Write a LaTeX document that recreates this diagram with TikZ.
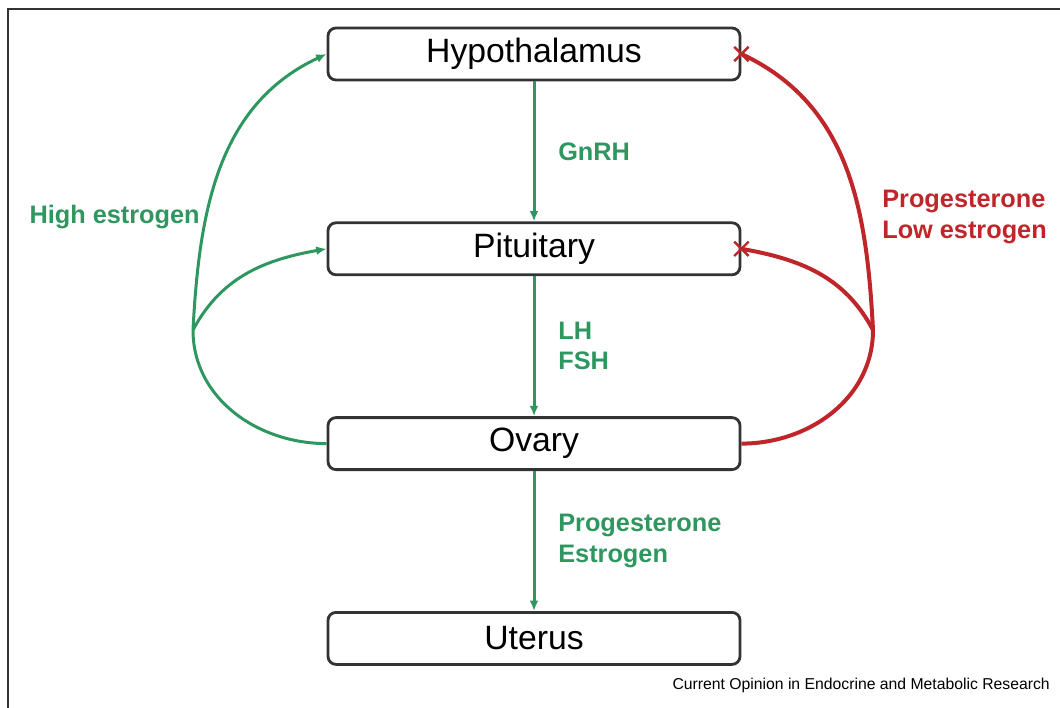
\documentclass[tikz,border=0pt]{standalone}
\usepackage{fontspec}
\setmainfont{Liberation Sans}
\usetikzlibrary{arrows.meta,positioning,shapes.misc}
\definecolor{hormgreen}{RGB}{46,150,95}
\definecolor{inhibred}{RGB}{190,38,42}

\begin{document}
\begin{tikzpicture}[>={Latex[length=2.6mm,width=2.2mm]}, node distance=35mm,
  organ/.style={draw=black!80, line width=0.7mm, rounded corners=2mm, minimum width=103mm, minimum height=13mm, font=\fontsize{24}{28}\selectfont},
  stim/.style={->, draw=hormgreen, line width=0.75mm},
  inhib/.style={draw=inhibred, line width=1mm},
  hlabel/.style={font=\fontsize{18}{21.5}\selectfont\bfseries, text=hormgreen, align=left, inner sep=0pt},
  xmark/.style={cross out, draw=inhibred, line width=0.6mm, minimum size=3mm, inner sep=0pt}]
  \useasboundingbox (0,0) rectangle (265mm,-177mm);
  % frame
  \draw[line width=0.5mm, black!80] (2mm,-177mm) |- (265mm,-2.25mm);

  \node[organ] (hypo) at (133.5mm,-13.5mm) {Hypothalamus};
  \node[organ, below=of hypo] (pit) {Pituitary};
  \node[organ, below=of pit] (ovary) {Ovary};
  \node[organ, below=of ovary] (uterus) {Uterus};

  % axis
  \draw[stim] (hypo) -- node[hlabel, right=5.7mm] (gnrh) {GnRH} (pit);
  \draw[stim] (pit) -- node[hlabel, right=5.7mm] (lhfsh) {LH\\FSH} (ovary);
  \draw[stim] (ovary) -- node[hlabel, right=5.7mm] (steroids) {Progesterone\\Estrogen} (uterus);

  % positive feedback
  \coordinate (hubL) at (48.25mm,-82.5mm);
  \draw[stim, -] (ovary.west) to[out=180,in=-90] (hubL);
  \draw[stim] (hubL) to[out=87,in=205] (hypo.west);
  \draw[stim] (hubL) to[out=62,in=190] (pit.west);
  \node[hlabel, anchor=east] (high) at (50mm,-54.25mm) {High estrogen};

  % negative feedback
  \coordinate (hubR) at (218.25mm,-82.5mm);
  \draw[inhib] (ovary.east) to[out=0,in=-90] (hubR);
  \draw[inhib] (hubR) to[out=93,in=-25] (hypo.east);
  \draw[inhib] (hubR) to[out=118,in=-10] (pit.east);
  \node[xmark] (xhypo) at (hypo.east) {};
  \node[xmark] (xpit) at (pit.east) {};
  \node[hlabel, text=inhibred, anchor=west] (low) at (220.5mm,-54.25mm) {Progesterone\\Low estrogen};

  \node[anchor=east, inner sep=0pt, font=\fontsize{11.2}{13}\selectfont] (credit) at (262.5mm,-171.25mm) {Current Opinion in Endocrine and Metabolic Research};
\end{tikzpicture}
\end{document}
